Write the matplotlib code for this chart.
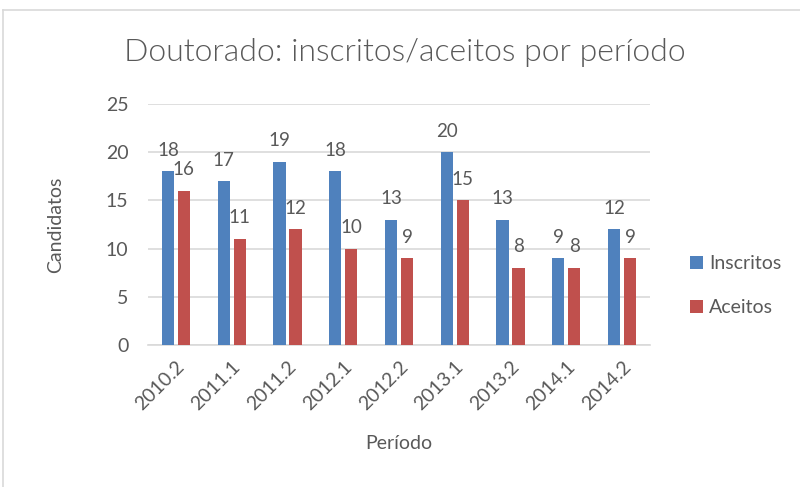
import matplotlib
matplotlib.use("Agg")
from matplotlib import pyplot as plt
from matplotlib.lines import Line2D
import numpy as np

periodos = ['2010.2', '2011.1', '2011.2', '2012.1', '2012.2',
            '2013.1', '2013.2', '2014.1', '2014.2']
inscritos = [18, 17, 19, 18, 13, 20, 13, 9, 12]
aceitos = [16, 11, 12, 10, 9, 15, 8, 8, 9]

plt.rcParams['font.family'] = ['Lato', 'DejaVu Sans']
cor_texto = '#595959'

fig = plt.figure(figsize=(8, 4.87), dpi=100)
ax = fig.add_axes([0.185, 0.2916, 0.6275, 0.4948])

# moldura do grafico (so esquerda e topo aparecem)
top = 1 - 10 / 487
fig.lines.append(Line2D([3 / 800, 3 / 800], [0, top], transform=fig.transFigure,
                        color='#d9d9d9', linewidth=1.2))
fig.lines.append(Line2D([3 / 800, 1], [top, top], transform=fig.transFigure,
                        color='#d9d9d9', linewidth=1.2))

x = np.arange(len(periodos))
w = 0.22
b1 = ax.bar(x - 0.143, inscritos, w, color='#4f81bd', label='Inscritos', zorder=3)
b2 = ax.bar(x + 0.143, aceitos, w, color='#c0504d', label='Aceitos', zorder=3)

for bars in (b1, b2):
    for rect in bars:
        h = rect.get_height()
        ax.annotate(str(int(h)), (rect.get_x() + rect.get_width() / 2, h),
                    xytext=(0, 9), textcoords='offset points',
                    ha='center', va='bottom', fontsize=13.5, color=cor_texto)

ax.set_xlim(-0.5, len(periodos) - 0.5)
ax.set_ylim(0, 25)
ax.set_yticks([0, 5, 10, 15, 20, 25])
ax.set_xticks(x)
ax.set_xticklabels(periodos, rotation=45, ha='right', rotation_mode='anchor')
ax.tick_params(axis='both', length=0, labelsize=14, colors=cor_texto)
ax.tick_params(axis='y', pad=14)
ax.tick_params(axis='x', pad=9)

ax.grid(axis='y', color='#d9d9d9', linewidth=1.2, zorder=0)
for s in ['top', 'right', 'left']:
    ax.spines[s].set_visible(False)
ax.spines['bottom'].set_color('#d9d9d9')
ax.spines['bottom'].set_linewidth(1.2)

ax.set_ylabel('Candidatos', fontsize=14, color=cor_texto, labelpad=30)
ax.set_xlabel('Período', fontsize=14, color=cor_texto, labelpad=16)
fig.text(0.506, 0.893, 'Doutorado: inscritos/aceitos por período',
         ha='center', va='center', fontsize=23, color=cor_texto,
         fontweight=300)

leg = ax.legend(loc='center left', bbox_to_anchor=(0.84, 0.413),
                bbox_transform=fig.transFigure, frameon=False,
                fontsize=14, labelspacing=1.4, handlelength=0.7,
                handleheight=0.7, handletextpad=0.3)
for t in leg.get_texts():
    t.set_color(cor_texto)

plt.savefig('out.png', dpi=100)
